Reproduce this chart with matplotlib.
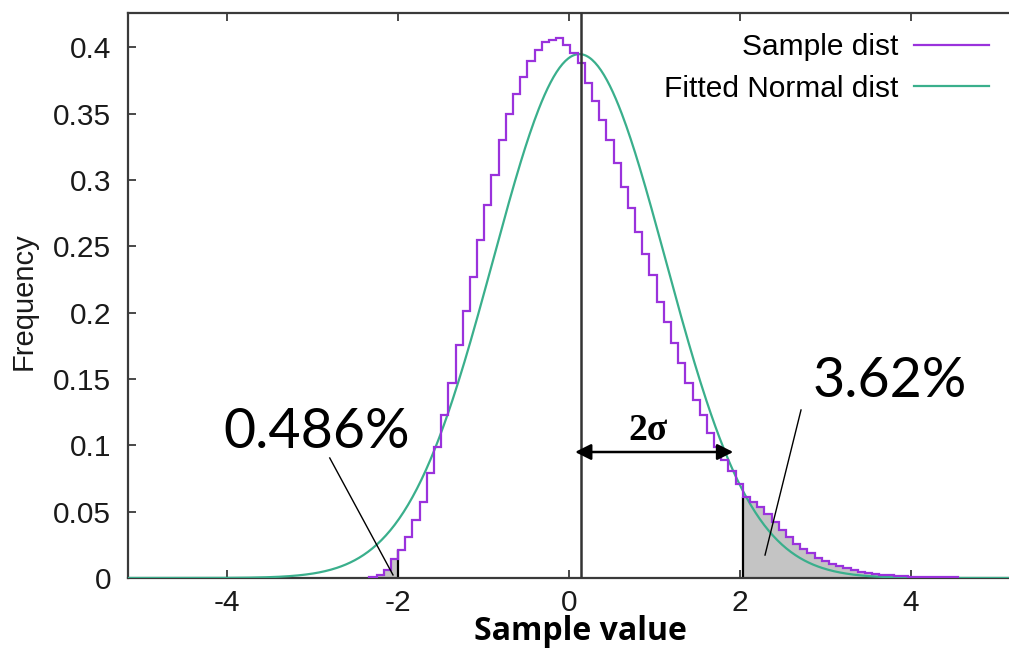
import numpy as np
import matplotlib
matplotlib.use("Agg")
import matplotlib.pyplot as plt

# ---------------- data ----------------
bin_start = -2.336
bin_width = 0.084
sample_freq = [
    0.0008, 0.002, 0.006, 0.014,
    0.021, 0.031, 0.044, 0.057, 0.079, 0.099, 0.123, 0.147, 0.176, 0.201,
    0.227, 0.255, 0.281, 0.304, 0.330, 0.350, 0.365, 0.378, 0.390, 0.398,
    0.404, 0.406, 0.4075, 0.402, 0.396, 0.388, 0.373, 0.360, 0.345, 0.330,
    0.313, 0.295, 0.279, 0.261, 0.244, 0.2285, 0.208, 0.193, 0.177, 0.162,
    0.147, 0.134, 0.123, 0.109, 0.099, 0.089, 0.081, 0.071,
    0.0613, 0.0576, 0.0534, 0.0484, 0.0425, 0.0365, 0.0307, 0.0259, 0.0219,
    0.0185, 0.0153, 0.0128, 0.0108, 0.0091, 0.0075, 0.006, 0.0048, 0.0038,
    0.0031, 0.0025, 0.002, 0.0016, 0.0013, 0.0011, 0.001, 0.0009, 0.0008,
    0.0007, 0.0006, 0.0005,
]
fit_mu = 0.12
fit_sigma = 1.01
left_tail_n = 4          # bins left of -2
right_tail_first = 52    # first bin right of +2
x_ticks = [-4, -2, 0, 2, 4]
y_ticks = [0, 0.05, 0.1, 0.15, 0.2, 0.25, 0.3, 0.35, 0.4]
y_tick_labels = ["0", "0.05", "0.1", "0.15", "0.2", "0.25", "0.3", "0.35", "0.4"]
series_labels = ["Sample dist", "Fitted Normal dist"]
left_pct = "0.486%"
right_pct = "3.62%"

# ---------------- plot ----------------
PURPLE = "#9a32dc"
GREEN = "#3aaf8c"
SPINE = "#3a3a3a"

W, H = 1009, 650
fig = plt.figure(figsize=(W / 100, H / 100), dpi=100)
ax = fig.add_axes([128 / W, (H - 578) / H, 1 - 128 / W, (578 - 13) / H])

vals = np.array(sample_freq)
edges = bin_start + bin_width * np.arange(len(vals) + 1)

# shaded tails
ax.stairs(vals[:left_tail_n], edges[:left_tail_n + 1], fill=True,
          color="#c4c4c4", zorder=1)
ax.stairs(vals[right_tail_first:], edges[right_tail_first:], fill=True,
          color="#c4c4c4", zorder=1)
ax.vlines([edges[left_tail_n], edges[right_tail_first]], 0,
          [vals[left_tail_n], vals[right_tail_first]], color="black",
          lw=1.6, zorder=2)

xs = np.linspace(-5.2, 5.2, 600)
pdf = np.exp(-0.5 * ((xs - fit_mu) / fit_sigma) ** 2) / (fit_sigma * np.sqrt(2 * np.pi))

h1 = ax.stairs(vals, edges, color=PURPLE, lw=1.6, zorder=4, baseline=0)
(h2,) = ax.plot(xs, pdf, color=GREEN, lw=1.6, zorder=3)

ax.set_xlim(-5.16, 5.146)
ax.set_ylim(0, 0.426)
ax.set_xticks(x_ticks)
ax.set_xticklabels([str(t) for t in x_ticks])
ax.set_yticks(y_ticks)
ax.set_yticklabels(y_tick_labels)

for lab in ax.get_xticklabels() + ax.get_yticklabels():
    lab.set_fontfamily("Liberation Sans")
    lab.set_fontsize(21.5)
    lab.set_color("#1a1a1a")

ax.tick_params(axis="both", direction="in", length=6, width=1.3,
               color=SPINE, top=True, right=False)
ax.tick_params(axis="x", pad=8)
ax.tick_params(axis="y", pad=12)
for s in ["left", "bottom", "top"]:
    ax.spines[s].set_color(SPINE)
    ax.spines[s].set_linewidth(1.6)
ax.spines["right"].set_visible(False)

ax.set_ylabel("Frequency", fontfamily="Liberation Sans", fontsize=21, color="#1a1a1a")
ax.yaxis.set_label_coords(-0.103, 0.49)
fig.text(580 / W, 1 - 631 / H, "Sample value", fontfamily="Open Sans",
         fontweight="bold", fontsize=23, ha="center", va="center")

leg = ax.legend([h1, h2], series_labels, loc="upper right",
                bbox_to_anchor=(0.991, 0.985), frameon=False, markerfirst=False,
                handlelength=2.5, handletextpad=0.55, labelspacing=0.45,
                borderaxespad=0, prop={"family": "Liberation Sans", "size": 21.5})
for line in leg.get_lines():
    line.set_linewidth(1.6)

# zero line and 2-sigma arrow
ax.axvline(0.14, color="#333333", lw=1.8, zorder=5)
ax.annotate("", xy=(1.92, 0.095), xytext=(0.07, 0.095),
            arrowprops=dict(arrowstyle="<|-|>", color="black", lw=1.8,
                            mutation_scale=24, shrinkA=0, shrinkB=0), zorder=6)
ax.text(0.924, 0.111, "2σ", fontfamily="Liberation Serif", fontweight="bold",
        fontsize=27, ha="center", va="center", zorder=6)

# percentage callouts
ax.text(-2.947, 0.110, left_pct, fontfamily="Lato", fontsize=40,
        ha="center", va="center", zorder=6)
ax.plot([-2.80, -2.06], [0.0905, 0.0023], color="black", lw=1.0, zorder=6)
ax.text(3.754, 0.148, right_pct, fontfamily="Lato", fontsize=40,
        ha="center", va="center", zorder=6)
ax.plot([2.713, 2.292], [0.1267, 0.0173], color="black", lw=1.0, zorder=6)

fig.savefig("out.png", dpi=100)
